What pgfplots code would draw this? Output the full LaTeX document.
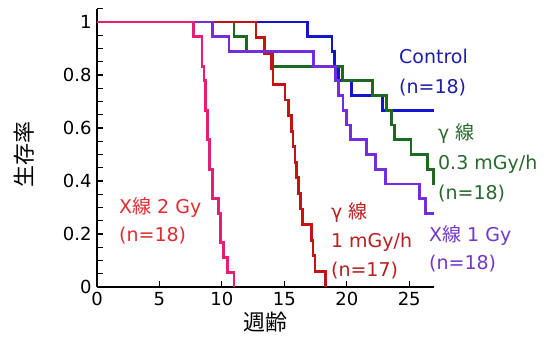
\documentclass[border=0pt]{standalone}
\usepackage{fontspec}
\setmainfont{DejaVu Sans}
\newfontfamily\jp{Noto Sans CJK JP}
\usepackage{pgfplots}
\pgfplotsset{compat=1.18}
\definecolor{cblue}{RGB}{20,20,205}
\definecolor{cgreen}{RGB}{28,105,32}
\definecolor{cpurple}{RGB}{115,45,220}
\definecolor{cred}{RGB}{195,20,20}
\definecolor{cpink}{RGB}{232,30,115}
\definecolor{tblue}{RGB}{30,30,170}
\definecolor{tgreen}{RGB}{40,105,45}
\definecolor{tpurple}{RGB}{115,55,205}
\definecolor{tred}{RGB}{185,30,30}
\definecolor{tpink}{RGB}{225,45,50}
\begin{document}
\begin{tikzpicture}
\path[use as bounding box] (-97pt,-53pt) rectangle (453pt,287pt);
\begin{axis}[
  at={(0pt,0pt)}, anchor=south west,
  scale only axis, width=337.2pt, height=278.25pt,
  xmin=0, xmax=27, ymin=0, ymax=1.05,
  enlargelimits=false, clip=false,
  axis lines=left,
  axis line style={-, line width=1.5pt, black},
  tick align=inside,
  xtick={0,5,10,15,20,25},
  ytick={0,0.2,0.4,0.6,0.8,1},
  minor ytick={0.05,0.1,0.15,0.25,0.3,0.35,0.45,0.5,0.55,0.65,0.7,0.75,0.85,0.9,0.95,1.05},
  major tick length=6pt, minor tick length=6pt,
  every tick/.style={black, line width=1.2pt},
  minor tick style={black, line width=1.2pt},
  /pgf/number format/assume math mode=true,
  tick label style={font=\fontsize{18}{20}\selectfont, black},
  xticklabel style={yshift=-2pt},
  yticklabel style={xshift=-2pt},
  xlabel={\jp 週齢},
  ylabel={\jp 生存率},
  every axis x label/.style={at={(rel axis cs:0.5,0)}, yshift=-35pt, anchor=center, font=\fontsize{22}{24}\selectfont},
  every axis y label/.style={at={(rel axis cs:0,0.476)}, xshift=-73pt, rotate=90, anchor=center, font=\fontsize{22}{24}\selectfont},
]
% Control (n=18)
\addplot[const plot, color=cblue, line width=2.8pt] coordinates {
(0,1) (16.85,0.9444) (18.82,0.8889) (19.0,0.8333) (19.35,0.7778) (20.4,0.7222) (22.87,0.6667) (27,0.6667)};
% gamma 0.3 mGy/h (n=18)
\addplot[const plot, color=cgreen, line width=2.8pt] coordinates {
(0,1) (10.97,0.9444) (11.98,0.8889) (14.06,0.8333) (19.65,0.7778) (22.03,0.7222) (23.2,0.6667) (23.6,0.6111) (23.85,0.5556) (25.15,0.5) (26.45,0.4444) (26.95,0.3889) (27,0.3889)};
% gamma 1 mGy/h (n=17)
\addplot[const plot, color=cred, line width=2.8pt] coordinates {
(0,1) (12.73,0.9412) (13.42,0.8824) (14.0,0.8235) (14.1,0.7647) (15.05,0.7059) (15.35,0.6471) (15.55,0.5882) (15.7,0.5294) (15.85,0.4706) (15.95,0.4118) (16.15,0.3529) (16.3,0.2941) (16.45,0.2353) (17.15,0.1765) (17.3,0.1176) (17.45,0.0588) (18.3,0)};
% X 1 Gy (n=18)
\addplot[const plot, color=cpurple, line width=2.8pt] coordinates {
(0,1) (9.26,0.9444) (10.57,0.8889) (17.32,0.8333) (19.1,0.7778) (19.35,0.7222) (19.7,0.6667) (19.95,0.6111) (20.3,0.5556) (21.6,0.5) (22.3,0.4444) (23.1,0.3889) (25.85,0.3333) (26.3,0.2778) (27,0.2778)};
% X 2 Gy (n=18)
\addplot[const plot, color=cpink, line width=2.8pt] coordinates {
(0,1) (7.7,0.9444) (8.4,0.8333) (8.57,0.7778) (8.7,0.6667) (8.82,0.5556) (9.02,0.4444) (9.28,0.3333) (9.72,0.2778) (9.92,0.1667) (10.15,0.1111) (10.45,0.0556) (10.97,0)};

\node[anchor=west, align=left, text=tblue, font=\fontsize{19}{30}\selectfont, inner sep=0pt] at (axis cs:24.18,0.811) {Control\\(n=18)};
\node[anchor=west, align=left, text=tgreen, font=\fontsize{19}{30}\selectfont, inner sep=0pt] at (axis cs:27.3,0.468) {γ {\jp 線}\\0.3 mGy/h\\(n=18)};
\node[anchor=west, align=left, text=tpurple, font=\fontsize{19}{28}\selectfont, inner sep=0pt] at (axis cs:26.58,0.143) {X{\jp 線} 1 Gy\\(n=18)};
\node[anchor=west, align=left, text=tred, font=\fontsize{19}{29}\selectfont, inner sep=0pt] at (axis cs:18.73,0.174) {γ {\jp 線}\\1 mGy/h\\(n=17)};
\node[anchor=west, align=left, text=tpink, font=\fontsize{19}{28}\selectfont, inner sep=0pt] at (axis cs:1.76,0.249) {X{\jp 線} 2 Gy\\(n=18)};
\end{axis}
\end{tikzpicture}
\end{document}
